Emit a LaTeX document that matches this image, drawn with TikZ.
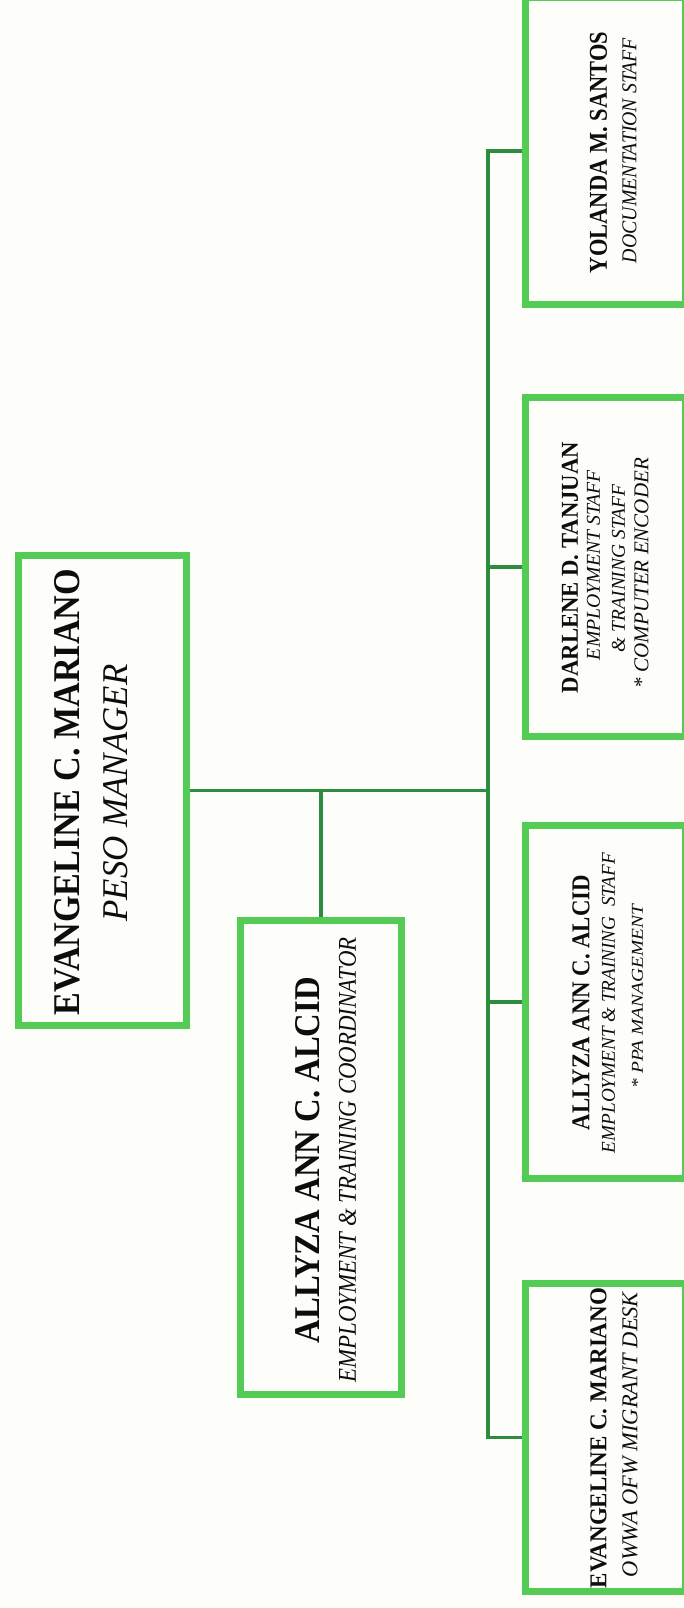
\documentclass[tikz,border=0pt]{standalone}
\usepackage{fontspec}
\setmainfont{Liberation Serif}
\usepackage{graphicx}
\definecolor{boxgreen}{RGB}{84,203,84}
\definecolor{linkgreen}{RGB}{46,140,62}
\definecolor{paper}{RGB}{253,253,249}
\pgfdeclarelayer{bg}
\pgfdeclarelayer{links}
\pgfsetlayers{bg,links,main}
% one line of text, stretched to a given length and cap height
\newcommand{\fitline}[3]{\resizebox{#1pt}{#2pt}{#3}}
\tikzset{
  unitbox/.style={draw=boxgreen, line width=7pt, fill=paper, inner sep=0pt, outer sep=0pt},
  staffbox/.style={unitbox, minimum width=159.5pt},
  conn/.style={draw=linkgreen, line width=3.5pt},
  txt/.style={rotate=90, inner sep=0pt, anchor=center, text=black!95}
}
\begin{document}
\begin{tikzpicture}[x=1pt, y=-1pt]
\useasboundingbox (0,0) rectangle (683,1608);
\begin{pgfonlayer}{bg}
  \fill[paper] (0,0) rectangle (683,1608);
\end{pgfonlayer}

% boxes (the staff column runs past the right edge of the sheet)
\node[unitbox, minimum width=168pt, minimum height=470pt] (mgr) at (102.5,790.5) {};
\node[unitbox, minimum width=161pt, minimum height=474pt] (coord) at (321,1157.5) {};
\node[staffbox, minimum height=307pt] (s1) at (605.25,151) {};
\node[staffbox, minimum height=339pt] (s2) at (605.25,567) {};
\node[staffbox, minimum height=353pt] (s3) at (605.25,1002) {};
\node[staffbox, minimum height=308pt] (s4) at (605.25,1437.5) {};

% connectors
\coordinate (bus) at (488,790.5);
\begin{pgfonlayer}{links}
  \draw[conn] (mgr.east) -- (bus);
  \draw[conn] (coord.north) |- (mgr.east);
  \draw[conn] (s1.west) -| (bus) |- (s4.west);
  \draw[conn] (bus |- s2.west) -- (s2.west);
  \draw[conn] (bus |- s3.west) -- (s3.west);
\end{pgfonlayer}

% manager
\node[txt] (mgrname) at (67,792) {\fitline{446}{25}{\bfseries EVANGELINE C. MARIANO}};
\node[txt] (mgrrole) at (115.5,793) {\fitline{257}{24}{\itshape PESO MANAGER}};

% coordinator
\node[txt] (coname) at (307.5,1160) {\fitline{366}{24}{\bfseries ALLYZA ANN C. ALCID}};
\node[txt] (corole) at (347.5,1160) {\fitline{445}{17}{\itshape EMPLOYMENT \& TRAINING COORDINATOR}};

% documentation staff
\node[txt] (s1name) at (598.5,152.5) {\fitline{241}{17}{\bfseries YOLANDA M. SANTOS}};
\node[txt] (s1role) at (629.5,150.5) {\fitline{225}{14}{\itshape DOCUMENTATION STAFF}};

% employment / training staff, encoder
\node[txt] (s2name) at (570,567.5) {\fitline{251}{16}{\bfseries DARLENE D. TANJUAN}};
\node[txt] (s2rolea) at (593.5,565) {\fitline{190}{13}{\itshape EMPLOYMENT STAFF}};
\node[txt] (s2roleb) at (618.5,568.5) {\fitline{167}{13}{\itshape \& TRAINING STAFF}};
\node[txt] (s2rolec) at (641.5,573) {\fitline{230}{14}{\itshape * COMPUTER ENCODER}};

% employment & training staff, PPA
\node[txt] (s3name) at (581,1002.5) {\fitline{255}{17}{\bfseries ALLYZA ANN C. ALCID}};
\node[txt] (s3rolea) at (608.5,1003) {\fitline{300}{13}{\itshape EMPLOYMENT \& TRAINING\ \ STAFF}};
\node[txt] (s3roleb) at (637.5,996.5) {\fitline{183}{11}{\itshape * PPA MANAGEMENT}};

% migrant desk
\node[txt] (s4name) at (598.5,1438) {\fitline{300}{16}{\bfseries EVANGELINE C. MARIANO}};
\node[txt] (s4role) at (630,1434.5) {\fitline{285}{15}{\itshape OWWA OFW MIGRANT DESK}};
\end{tikzpicture}
\end{document}
